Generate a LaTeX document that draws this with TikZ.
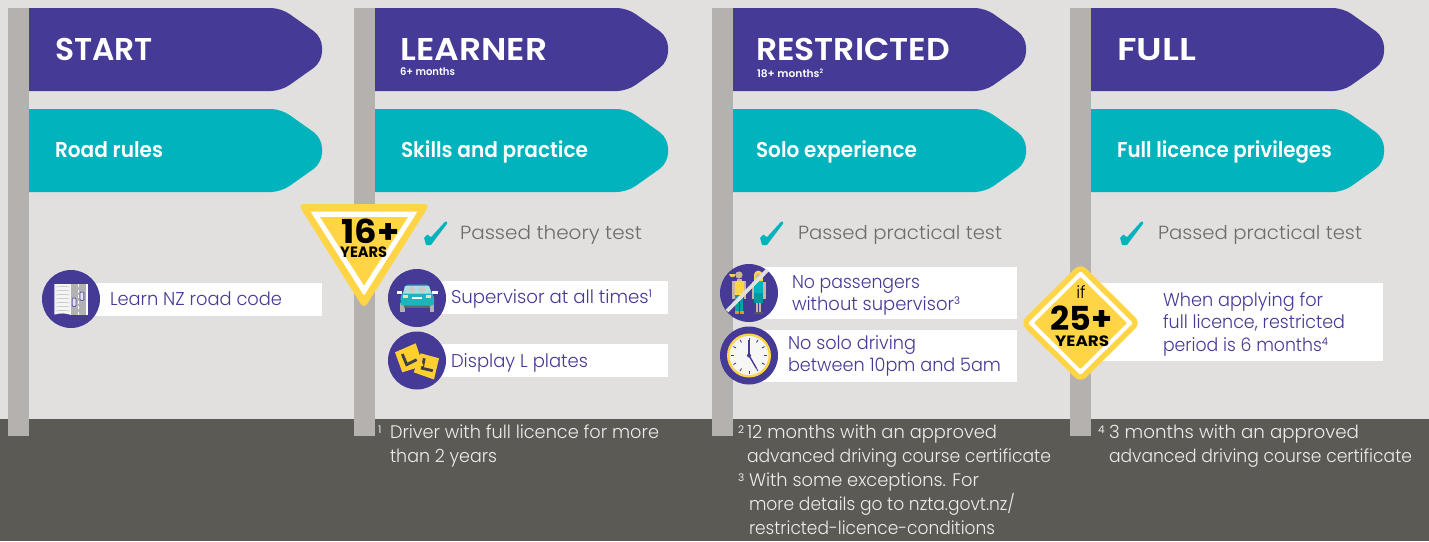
\documentclass[tikz,border=0pt]{standalone}
\usepackage{fontspec}
\usepackage{graphicx}
\setmainfont{Poppins}[UprightFont=* Light,BoldFont=* SemiBold]
\newfontfamily\heavyf{Poppins}[UprightFont=* Bold]
\newfontfamily\regf{Poppins}
\definecolor{bgc}{HTML}{E1E0DE}
\definecolor{darkc}{HTML}{5C5A55}
\definecolor{postc}{HTML}{B5B1AE}
\definecolor{purp}{HTML}{453A96}
\definecolor{teal2}{HTML}{00B3BC}
\definecolor{cart}{HTML}{1FB4BD}
\definecolor{yel}{HTML}{FFD545}
\definecolor{plate}{HTML}{FDCF2F}
\definecolor{greyt}{HTML}{6E6C68}
\definecolor{foot}{HTML}{EDEDEB}
\definecolor{skin}{HTML}{C9B79C}
\newcommand\fs[1]{\fontsize{#1}{#1}\selectfont}
\newcommand\fw[2]{\resizebox{#1pt}{\height}{#2}}
\newcommand\supn[1]{\raisebox{6pt}{\regf\fs{10.5}#1}}
\newcommand\sgn[3]{% x, top y, colour
 \fill[#3] (#1,#2) [rounded corners=10] -- ({#1+252},#2) -- ({#1+293},{#2+29}) -- ({#1+293},{#2+54}) -- ({#1+252},{#2+83}) [sharp corners] -- (#1,{#2+83}) -- cycle;}
\tikzset{
 lab/.style={anchor=base west,inner sep=0pt,outer sep=0pt},
 head/.style={lab,text=white,font=\fs{31.5}\bfseries},
 sub/.style={lab,text=white,font=\fs{10.5}\bfseries},
 mid/.style={lab,text=white,font=\fs{21.5}\bfseries},
 item/.style={lab,text=purp,font=\fs{18.5}},
 pass/.style={lab,text=greyt,font=\fs{19}},
 fnote/.style={lab,text=foot,font=\fs{18.2}},
 fsup/.style={lab,text=foot,font=\regf\fs{10.5}},
 big/.style={anchor=base west,inner sep=0pt,text=black,font=\heavyf\fs{33}},
 yrs/.style={anchor=base west,inner sep=0pt,text=black,font=\heavyf\fs{15}},
 disc/.style={fill=purp},
 bar/.style={fill=white},
}
\newcommand\chk[1]{\begin{scope}[shift={(#1,0)}]
 \fill[teal2,rounded corners=0.7] (424,237.8) -- (427.6,234.4) -- (430.8,237.4) -- (445.7,221) -- (447.6,223) -- (431,245) -- (426,245) -- cycle;
 \end{scope}}
\begin{document}
\begin{tikzpicture}[x=1pt,y=-1pt]
\useasboundingbox (0,0) rectangle (1429,541);
\fill[bgc] (0,0) rectangle (1429,541);
\fill[darkc] (0,419) rectangle (1429,541);
\foreach \p in {8,354,712,1070}{\fill[postc] (\p,8) rectangle ({\p+21},436);}
\sgn{29}{8}{purp}\sgn{375}{8}{purp}\sgn{733}{8}{purp}\sgn{1091}{8}{purp}
\sgn{29}{109}{teal2}\sgn{375}{109}{teal2}\sgn{733}{109}{teal2}\sgn{1091}{109}{teal2}
% headings
\node[head] (h1) at (55,60) {\fw{98}{START}};
\node[head] (h2) at (400.5,60) {\fw{147}{LEARNER}};
\node[sub] (s2) at (400,75) {\fw{55}{6+ months}};
\node[head] (h3) at (756,60) {\fw{194}{RESTRICTED}};
\node[sub] (s3) at (757,77) {\fw{66}{18+ months\raisebox{3.5pt}{\fs{6}2}}};
\node[head] (h4) at (1117,60) {\fw{79}{FULL}};
\node[mid] (m1) at (55,157) {\fw{108}{Road rules}};
\node[mid] (m2) at (401,157) {\fw{187}{Skills and practice}};
\node[mid] (m3) at (756,157) {\fw{161}{Solo experience}};
\node[mid] (m4) at (1117,157) {\fw{215}{Full licence privileges}};
% bars
\fill[bar] (71,283) rectangle (322,316);
\fill[bar] (417,281) rectangle (668,314);
\fill[bar] (417,344) rectangle (668,377);
\fill[bar] (749,267) rectangle (1017,319);
\fill[bar] (749,330) rectangle (1017,382);
\fill[bar] (1080,283) rectangle (1383,361);
% discs
\fill[disc] (71,299) circle (29);
\fill[disc] (417,298) circle (29);
\fill[disc] (417,360.5) circle (29);
\fill[disc] (749,293) circle (29);
\fill[disc] (749,355.5) circle (29);
% book icon
\begin{scope}[shift={(71,299)}]
 \fill[white!92!gray] (-16.7,-15) -- (0,-15) -- (0,16) .. controls (-5,14) and (-11,14) .. (-16.7,15.5) -- cycle;
 \foreach \y in {-12,-8,...,12}{\draw[gray!55,line width=0.5] (-15.5,\y) .. controls (-10,{\y-0.7}) and (-5,{\y-0.7}) .. (-1.5,\y);}
 \fill[white] (0,-15) rectangle (17,15.5);
 \fill[gray!60!white] (0,-15) rectangle (15,15.5);
 \draw[white,line width=0.6,dash pattern=on 3 off 2.5] (7.5,-15) -- (7.5,15.5);
 \fill[white!85!purp,draw=purp!85,line width=0.9,rounded corners=1] (1.2,-1) rectangle (5,7.5);
 \fill[white!85!purp,draw=purp!85,line width=0.9,rounded corners=1] (9,-7) rectangle (12.8,1.5);
\end{scope}
% car icon
\begin{scope}[shift={(417,298)}]
 \fill[postc] (-17,5) rectangle (-12.5,14);
 \fill[postc] (12.5,5) rectangle (17,14);
 \fill[black!60] (-13,5) rectangle (13,9.5);
 \fill[white] (-20,-6.8) rectangle (-15,-4);
 \fill[white] (15,-6.8) rectangle (21,-4);
 \fill[cart,rounded corners=2.5] (-16.5,7.5) -- (-16.5,-2) -- (-14,-5) -- (-11,-13.5) -- (11.5,-13.5) -- (14.5,-5) -- (17,-2) -- (17,7.5) -- cycle;
 \fill[white!60!cart] (-12,-12) -- (12,-12) -- (14.6,-4.3) -- (-14,-4.3) -- cycle;
 \fill[postc!70!white] (-4.7,-8.7) circle (3.4);
 \fill[postc!70!white] (5,-8.7) circle (3.4);
 \fill[white] (-4.7,-1.3) rectangle (4.7,0.8);
 \fill[white!70!orange] (-14,-3) rectangle (-8.7,-0.5);
 \fill[white!70!orange] (8.7,-3) rectangle (14,-0.5);
\end{scope}
% L plates
\begin{scope}[shift={(417,360.5)}]
 \fill[plate] (3.7,-7.2) -- (22,-2.2) -- (17,19) -- (-3.3,11.8) -- cycle;
 \draw[black!75,line width=2.8,line join=miter] (7.3,-2.2) -- (5.3,7.8) -- (15.7,10.2);
 \fill[plate] (-22,-8.2) -- (-1.3,-17.2) -- (6.3,5.2) -- (-14.7,11.8) -- cycle;
 \draw[black!75,line width=2.8,line join=miter] (-14.7,-6.5) -- (-10.3,4.2) -- (-0.3,-0.8);
\end{scope}
% people
\begin{scope}[shift={(749,293)}]
 \fill[skin] (-17,-12) rectangle (-14.3,5.5);
 \fill[skin] (-5.3,-12) rectangle (-3,5.5);
 \fill[skin] (-12.5,-14) rectangle (-7.5,-11);
 \fill[yel] (-14.5,-12) rectangle (-5.3,1.5);
 \fill[teal2!90!black] (-13.8,1.5) rectangle (-6,18);
 \fill[purp] (-10.2,7) rectangle (-9.5,18);
 \fill[orange!70!skin] (-14.5,18) rectangle (-10.5,20.5);
 \fill[orange!70!skin] (-9.5,18) rectangle (-5.5,20.5);
 \fill[skin] (-10,-18) circle (3.6);
 \fill[yel!80!skin] (-13.3,-19) arc (180:360:-3.3 and -3.3) -- cycle;
 \fill[yel] (9.3,-18) circle (4.4);
 \fill[yel] (4.9,-18) rectangle (13.7,-9);
 \fill[skin] (9.3,-16.5) circle (2.8);
 \fill[skin] (3,-11) rectangle (5.5,6);
 \fill[skin] (14,-11) rectangle (16.5,6);
 \fill[teal2] (5.2,-12) rectangle (13.8,0);
 \fill[teal2!85!black] (5,0) rectangle (14,9.5);
 \fill[skin] (6.7,9.5) rectangle (9,19);
 \fill[skin] (10,9.5) rectangle (12.3,19);
 \fill[black!65] (5.7,19) rectangle (13.5,20.5);
 \draw[bgc,line width=3.8] (18.5,-23) -- (-22,18);
\end{scope}
% clock
\begin{scope}[shift={(749,355.5)}]
 \fill[yel] (0,0) circle (22);
 \fill[white!88!postc] (0,0) circle (19.5);
 \foreach \a in {0,30,...,330}{\draw[purp,line width=0.9] (\a:15) -- (\a:18);}
 \draw[purp,line width=1.4] (0,0) -- (0,-16);
 \draw[purp,line width=1.4] (0,0) -- (7.5,13);
 \fill[purp] (0,0) circle (2);
\end{scope}
% item texts
\node[item] (t1) at (110,305) {\fw{172}{Learn NZ road code}};
\node[item] (t2) at (451,303) {\fw{201}{Supervisor at all times\supn{1}}};
\node[item] (t3) at (451,367) {\fw{137}{Display L plates}};
\node[item] (t4) at (792,288) {\fw{128}{No passengers}};
\node[item] (t5) at (792,310) {\fw{168}{without supervisor\supn{3}}};
\node[item] (t6) at (788,349) {\fw{128}{No solo driving}};
\node[item] (t7) at (788,371) {\fw{213}{between 10pm and 5am}};
\node[item] (t8) at (1163,306) {\fw{160}{When applying for}};
\node[item] (t9) at (1163,328) {\fw{182}{full licence, restricted}};
\node[item] (t10) at (1163,351) {\fw{165}{period is 6 months\supn{4}}};
% passed
\chk{0}\chk{336}\chk{696}
\node[pass] (p1) at (460,239) {\fw{182}{Passed theory test}};
\node[pass] (p2) at (798,239) {\fw{204}{Passed practical test}};
\node[pass] (p3) at (1158,239) {\fw{204}{Passed practical test}};
% triangle
\fill[yel,rounded corners=6] (298,204) -- (430,204) -- (364,309) -- cycle;
\fill[white,rounded corners=1] (310.5,211.5) -- (417.5,211.5) -- (364,295.5) -- cycle;
\fill[yel] (320,217) -- (408,217) -- (364,285.5) -- cycle;
\node[big] (a16) at (341,243) {\fw{58}{16+}};
\node[yrs] (y16) at (340,257) {\fw{47}{YEARS}};
% diamond
\fill[yel,rounded corners=8] (1080.5,263) -- (1141,323) -- (1080.5,383) -- (1020,323) -- cycle;
\fill[white,rounded corners=1.5] (1080.5,271) -- (1133,323) -- (1080.5,375) -- (1028,323) -- cycle;
\fill[yel,rounded corners=1] (1080.5,277) -- (1127,323) -- (1080.5,369) -- (1034,323) -- cycle;
\node[anchor=base,inner sep=0pt,text=black,font=\fs{17}] (i25) at (1081,298) {if};
\node[big] (a25) at (1050,330) {\fw{62}{25+}};
\node[yrs] (y25) at (1055,346) {\fw{54}{YEARS}};
% footnotes
\node[fsup] (f1s) at (378,433) {1};
\node[fnote] (f1a) at (390,438) {\fw{269}{Driver with full licence for more}};
\node[fnote] (f1b) at (390,462) {\fw{107}{than 2 years}};
\node[fsup] (f2s) at (738,433) {2};
\node[fnote] (f2a) at (747,438) {\fw{250}{12 months with an approved}};
\node[fnote] (f2b) at (747,462) {\fw{304}{advanced driving course certificate}};
\node[fsup] (f3s) at (738,481) {3};
\node[fnote] (f3a) at (749,486) {\fw{230}{With some exceptions. For}};
\node[fnote] (f3b) at (749,510) {\fw{266}{more details go to nzta.govt.nz/}};
\node[fnote] (f3c) at (749,534) {\fw{246}{restricted-licence-conditions}};
\node[fsup] (f4s) at (1098,433) {4};
\node[fnote] (f4a) at (1109,438) {\fw{250}{3 months with an approved}};
\node[fnote] (f4b) at (1109,462) {\fw{303}{advanced driving course certificate}};
\end{tikzpicture}
\end{document}
